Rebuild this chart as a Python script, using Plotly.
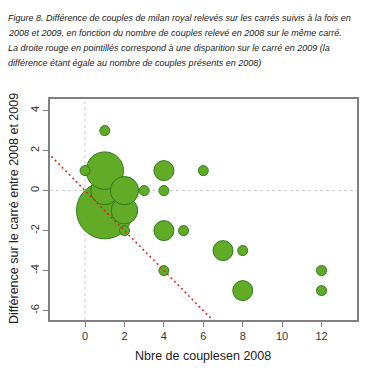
import plotly.graph_objects as go

# Data (drawing order: big ones first)
n2008 = [1, 1, 2, 1, 2, 0, 1, 3, 4, 4, 6, 4, 5, 2, 4, 7, 8, 8, 12, 12]
diff = [-1, 0, -1, 1, 0, 1, 3, 0, 1, 0, 1, -2, -2, -2, -4, -3, -3, -5, -4, -5]
count = [32, 8, 7, 14, 8, 1, 1, 1, 4, 1, 1, 4, 1, 1, 1, 4, 1, 4, 1, 1]

x_ticks = [0, 2, 4, 6, 8, 10, 12]
y_ticks = [-6, -4, -2, 0, 2, 4]
x_range = [-1.78, 13.8]
y_range = [-6.47, 4.58]

title_lines = [
    "Figure 8. Différence de couples de milan royal relevés sur les carrés suivis à la fois en",
    "2008 et 2009, en fonction du nombre de couples relevé en 2008 sur le même carré.",
    "La droite rouge en pointillés correspond à une disparition sur le carré en 2009 (la",
    "différence étant égale au nombre de couples présents en 2008)",
]
title_line_y = [18, 33, 48, 63]

W, H = 377, 377
ml, mr, mt, mb = 50, 20, 99, 57
pw, ph = W - ml - mr, H - mt - mb

fig = go.Figure()

fig.add_trace(go.Scatter(
    x=n2008, y=diff, mode="markers",
    marker=dict(size=count, sizemode="area", sizeref=0.02,
                color="#62ab26", line=dict(color="#2f7a1f", width=1), opacity=1),
    hoverinfo="x+y", showlegend=False,
))

line_x = [x_range[0] - 1, x_range[1]]
fig.add_trace(go.Scatter(
    x=line_x, y=[-v for v in line_x], mode="lines",
    line=dict(color="#e0201b", width=1.5, dash="2px,3px"),
    showlegend=False, hoverinfo="skip",
))

fig.add_shape(type="line", xref="x", yref="paper", x0=0, x1=0, y0=0, y1=1,
              line=dict(color="#cccccc", width=1, dash="dot"), layer="below")
fig.add_shape(type="line", xref="paper", yref="y", x0=0, x1=1, y0=0, y1=0,
              line=dict(color="#cccccc", width=1, dash="dot"), layer="below")

fig.update_layout(
    width=W, height=H,
    margin=dict(l=ml, r=mr, t=mt, b=mb, pad=0),
    paper_bgcolor="white", plot_bgcolor="white",
    font=dict(family="Liberation Sans, Arial, sans-serif", color="#333333", size=11),
    xaxis=dict(range=x_range, tickvals=x_ticks, ticktext=[str(v) for v in x_ticks],
               showgrid=False, zeroline=False, showline=True, mirror=True,
               linecolor="#808080", linewidth=1.5, ticks="outside", ticklen=5,
               tickcolor="#808080", tickfont=dict(size=11, color="#333")),
    yaxis=dict(range=y_range, tickvals=y_ticks, ticktext=[str(v) for v in y_ticks],
               showgrid=False, zeroline=False, showline=True, mirror=True,
               linecolor="#808080", linewidth=1.5, ticks="outside", ticklen=5,
               tickcolor="#808080", tickangle=-90, tickfont=dict(size=11, color="#333")),
)

for line, ypx in zip(title_lines, title_line_y):
    fig.add_annotation(
        text=line, xref="paper", yref="paper",
        x=(6 - ml) / pw, y=1 + (mt - ypx) / ph, xanchor="left", yanchor="middle",
        align="left", showarrow=False,
        font=dict(family="Liberation Sans, Arial, sans-serif", style="italic",
                  size=9.0, color="#222"),
    )
fig.add_annotation(
    text="Différence sur le carré entre 2008 et 2009", xref="paper", yref="paper",
    x=(14 - ml) / pw, y=1 - (209 - mt) / ph, textangle=-90,
    xanchor="center", yanchor="middle", showarrow=False,
    font=dict(size=12.5, color="#222"),
)
fig.add_annotation(
    text="Nbre de couplesen 2008", xref="paper", yref="paper",
    x=(203 - ml) / pw, y=-(356 - mt - ph) / ph,
    xanchor="center", yanchor="middle", showarrow=False,
    font=dict(size=12.5, color="#222"),
)

fig.write_html("out.html", config={"displayModeBar": False},
               post_script="document.body.style.margin='0';")
